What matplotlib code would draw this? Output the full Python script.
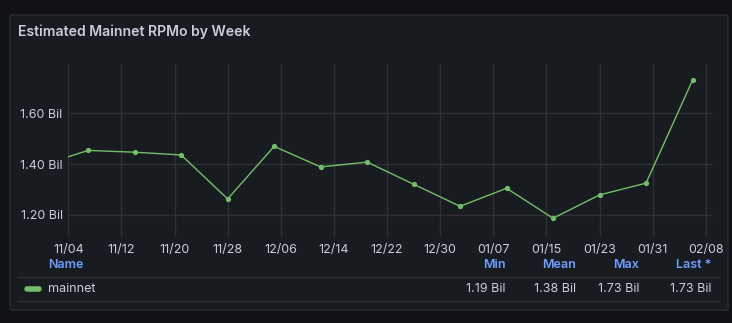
import matplotlib
matplotlib.use("Agg")
import matplotlib.pyplot as plt
import matplotlib.dates as mdates
from matplotlib.patches import FancyBboxPatch
from matplotlib.lines import Line2D
import numpy as np

# weekly estimates, billions of requests per month
weeks = np.array([
    "2023-10-31", "2023-11-07", "2023-11-14", "2023-11-21", "2023-11-28",
    "2023-12-05", "2023-12-12", "2023-12-19", "2023-12-26", "2024-01-02",
    "2024-01-09", "2024-01-16", "2024-01-23", "2024-01-30", "2024-02-06",
], dtype="datetime64[D]")
rpmo = [1.396, 1.454, 1.447, 1.436, 1.263, 1.470, 1.389, 1.408, 1.321,
        1.234, 1.305, 1.187, 1.279, 1.325, 1.730]

x_start, x_end = np.datetime64("2023-11-04"), np.datetime64("2024-02-09T01:00")
y_ticks = [1.20, 1.40, 1.60]
stat_names = ["Min", "Mean", "Max", "Last *"]

BG = "#111217"
PANEL = "#181b1f"
BORDER = "#2b2d33"
GRID = "#2e3036"
TEXT = "#ccccdc"
BLUE = "#6e9fff"
GREEN = "#73bf69"

W, H = 732, 323
plt.rcParams["font.family"] = ["Inter", "DejaVu Sans"]

fig = plt.figure(figsize=(W / 100, H / 100), dpi=100, facecolor=BG)


def fx(px):
    return px / W


def fy(py):
    return 1 - py / H


panel = FancyBboxPatch((fx(10), fy(310)), fx(718), 295 / H,
                       boxstyle="round,pad=0,rounding_size=0.004",
                       transform=fig.transFigure, facecolor=PANEL,
                       edgecolor=BORDER, lw=1.0, zorder=0)
fig.add_artist(panel)

fig.text(fx(18), fy(32), "Estimated Mainnet RPMo by Week", color=TEXT,
         fontsize=10.1, fontweight="semibold", va="center", ha="left")

ax = fig.add_axes([fx(68.3), fy(237.3), fx(712.7 - 68.3), (237.3 - 64.3) / H])
ax.set_facecolor("none")
for s in ax.spines.values():
    s.set_visible(False)

ax.plot(weeks, rpmo, color=GREEN, lw=1.0, marker="o", ms=3.8,
        markeredgewidth=0, zorder=3)

ax.set_xlim(x_start, x_end)
ax.set_ylim(1.112, 1.793)
tick_days = np.arange(np.datetime64("2023-11-04"), np.datetime64("2024-02-09"),
                      np.timedelta64(8, "D"))
ax.set_xticks(tick_days)
ax.xaxis.set_major_formatter(mdates.DateFormatter("%m/%d"))
ax.set_yticks(y_ticks)
ax.set_yticklabels([f"{v:.2f} Bil" for v in y_ticks])
ax.tick_params(length=0, colors=TEXT, labelsize=9)
ax.tick_params(axis="y", pad=4)
ax.tick_params(axis="x", pad=5)
ax.grid(True, color=GRID, lw=1.0)
ax.set_axisbelow(True)

# legend table
fig.text(fx(48), fy(265.5), "Name", color=BLUE, fontsize=9,
         fontweight="semibold", va="center", ha="left")
stat_x = [506, 576, 639, 711]
min_v, mean_v, max_v, last_v = min(rpmo), np.mean(rpmo), max(rpmo), rpmo[-1]
for name, xr, val in zip(stat_names, stat_x, [min_v, mean_v, max_v, last_v]):
    fig.text(fx(xr), fy(265.5), name, color=BLUE, fontsize=9,
             fontweight="semibold", va="center", ha="right")
    fig.text(fx(xr), fy(289), f"{val:.2f} Bil", color=TEXT, fontsize=9,
             va="center", ha="right")

for yline in (277.3, 301.3):
    fig.add_artist(Line2D([fx(18), fx(720)], [fy(yline), fy(yline)],
                          transform=fig.transFigure, color=BORDER, lw=1.0))
fig.add_artist(Line2D([fx(27), fx(39)], [fy(289.3), fy(289.3)],
                      transform=fig.transFigure, color=GREEN, lw=4,
                      solid_capstyle="round"))
fig.text(fx(48), fy(289), "mainnet", color=TEXT, fontsize=9,
         va="center", ha="left")

fig.savefig("out.png", dpi=100, facecolor=BG)
